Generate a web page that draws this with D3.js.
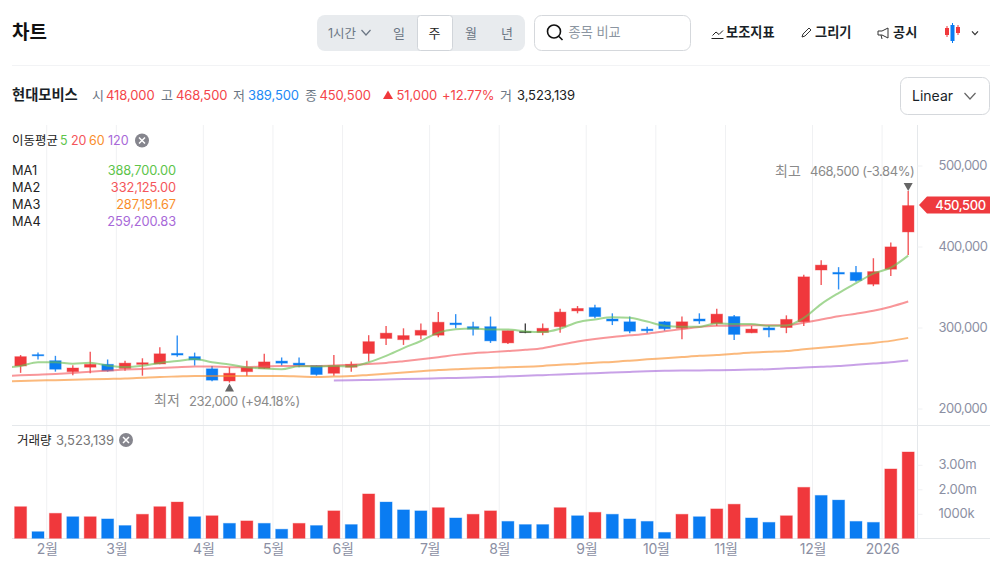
<!DOCTYPE html>
<html lang="ko">
<head>
<meta charset="utf-8">
<script src="https://cdn.jsdelivr.net/npm/d3@7"></script>
<style>
    html, body { margin: 0; background: #fff; overflow: hidden; }
    svg { display: block; }
    text { font-family: Inter, "Noto Sans CJK KR", sans-serif; }
    .axis .domain { display: none; }
    .axis text { fill: #8b8fa3; }
</style>
</head>
<body>
<div id="chart"></div>
<script>
// weekly candles, one entry per week
const open = [252500,266500,259000,245500,251000,254500,249500,254500,255000,268000,264000,249000,234000,245500,249500,258500,256000,253000,243500,251000,268000,286500,285000,290500,290500,305500,301000,301000,281000,295000,294000,301000,320500,324500,310500,307000,298000,307000,299000,310500,305000,313500,293500,299500,300000,307000,371000,368000,368000,353500,372000,418000];
const high = [266000,269000,265000,253500,270000,260500,259000,262000,275500,290000,269000,252500,251000,259000,267500,263000,263000,253500,266000,258000,290500,302000,299000,305000,319000,316500,307000,313500,296000,305000,305000,323000,326500,328000,317500,313500,301000,308000,313500,317500,323000,315500,302000,302000,315000,365000,383000,374500,376000,385500,405000,468500];
const low = [244000,260500,245500,241000,243500,245500,246500,240500,254500,264000,253000,233500,232000,240000,249000,253000,251000,240500,240500,245500,258000,278500,278500,285500,288000,299000,290000,281000,279500,293000,290500,293500,317500,311500,303000,293000,293000,296000,285500,304500,302000,284500,293000,288000,293000,302000,352500,347000,356500,351000,363500,389500];
const close = [264000,265000,248500,250000,254500,246500,256000,256500,267500,266000,260000,235000,243500,250500,257500,256000,253500,242000,253000,254500,282500,293000,290000,296500,306500,303500,298000,283500,296000,295000,299000,319000,323500,313500,308000,295500,296000,298500,307000,308000,316500,291500,298000,297000,310000,362500,377000,366000,358000,369000,399500,450500];

const volume = [1290000,270000,1020000,880000,880000,790000,520000,980000,1290000,1480000,880000,920000,610000,710000,610000,370000,610000,520000,1120000,560000,1810000,1480000,1160000,1120000,1250000,830000,980000,1120000,690000,560000,560000,1250000,920000,1060000,980000,790000,690000,240000,980000,880000,1200000,1390000,830000,650000,920000,2080000,1750000,1560000,690000,650000,2830000,3523139];
// 1 = red bar, 0 = blue bar
const volumeUp = [1,0,1,0,1,0,0,1,1,1,0,1,0,1,0,0,1,0,1,0,1,0,0,0,1,0,1,1,0,0,0,1,0,1,0,0,0,0,1,0,1,1,0,0,1,1,0,0,0,0,1,1];

// moving averages, first ma5/ma20/ma60 value is the week before the chart starts
const ma5 = [250000,252500,257000,257000,255300,256400,252900,251100,252700,256200,258500,261200,257000,254400,251000,249300,248500,252200,251900,252400,251800,257100,265000,274600,283300,293700,297900,298900,297600,297500,295200,294300,298500,306500,310000,312600,311900,307300,302300,301000,301000,305200,304300,304200,302200,302600,311800,328900,342500,354700,366500,373900,388700];
const ma20 = [240000,241000,241800,242600,243800,245400,246700,248000,248900,250000,250900,251700,252000,251000,251000,252000,252500,252500,252500,253000,254000,254900,256300,258400,260700,263300,266200,268300,269600,271000,272500,274500,278700,282700,285800,288300,290300,292400,295300,298000,300600,302300,302300,302700,302700,302900,305800,309800,313900,317000,320700,325700,332125];
const ma60 = [233500,234000,234500,235000,235500,236000,236500,237000,238000,239000,239500,240000,240000,240000,240000,240000,240000,239500,239000,239500,240000,241500,243000,244500,246000,247500,248500,249500,250000,251000,251500,252500,254000,255000,256500,257500,259000,260700,262000,263500,265000,266000,267500,269000,270000,271000,273000,275000,277000,279000,281000,283500,287192];
const ma120 = [234500,234800,235300,235800,236300,236800,237200,237800,238400,239000,239700,240300,241200,242000,242800,243600,244400,245200,246000,246500,246800,247000,247300,247600,248000,248500,249600,250500,251500,252500,254000,255500,257000,259201];
const ma120Start = 18;

const priceTicks = [200000,300000,400000,500000];
const volumeTicks = [1000000,2000000,3000000];
const volumeTickLabels = ["1000k","2.00m","3.00m"];
const monthTicks = [1.5,5.5,10.5,14.5,18.5,23.5,27.5,32.5,36.5,40.5,45.5,49.5];
const monthLabels = ["2월","3월","4월","5월","6월","7월","8월","9월","10월","11월","12월","2026"];

const maLegend = [
    {name: "MA1", value: "388,700.00", period: "5", color: "#5dc44a", x: 60},
    {name: "MA2", value: "332,125.00", period: "20", color: "#f4555a", x: 71},
    {name: "MA3", value: "287,191.67", period: "60", color: "#f98e2c", x: 89},
    {name: "MA4", value: "259,200.83", period: "120", color: "#a768d8", x: 108}
];

const RED = "#f0383c", BLUE = "#0a7cf2", GREY = "#6b7684";

const svg = d3.select("#chart").append("svg").attr("width", 1002).attr("height", 575);

const x = d3.scaleLinear().domain([0, 51]).range([20.6, 908.2]);
const y = d3.scaleLinear().domain([200000, 500000]).range([408.5, 165.5]);
const yVol = d3.scaleLinear().domain([0, 1000000]).range([538.3, 513.8]);

function label(parent, px, py, str, size, color, weight, anchor) {
    return parent.append("text")
        .attr("x", px).attr("y", py)
        .attr("font-size", size)
        .attr("fill", color)
        .attr("font-weight", weight || 400)
        .attr("text-anchor", anchor || "start")
        .text(str);
}

function chevron(parent, cx, cy, w, h, color) {
    parent.append("path")
        .attr("d", d3.line()([[cx - w, cy - h], [cx, cy + h], [cx + w, cy - h]]))
        .attr("fill", "none").attr("stroke", color).attr("stroke-width", 1.2);
}

function closeIcon(parent, cx, cy) {
    parent.append("circle").attr("cx", cx).attr("cy", cy).attr("r", 7).attr("fill", "#85858d");
    parent.append("path")
        .attr("d", `M${cx - 3},${cy - 3}L${cx + 3},${cy + 3}M${cx + 3},${cy - 3}L${cx - 3},${cy + 3}`)
        .attr("stroke", "#fff").attr("stroke-width", 1.5);
}

// ---- header
const head = svg.append("g");
label(head, 12, 39, "차트", 19, "#111", 700);

head.append("rect").attr("x", 317).attr("y", 15).attr("width", 208).attr("height", 36).attr("rx", 8).attr("fill", "#e8ebee");
head.append("rect").attr("x", 417.5).attr("y", 15.5).attr("width", 35).attr("height", 35).attr("rx", 3)
    .attr("fill", "#fff").attr("stroke", "#d1d5da");
label(head, 328, 38, "1시간", 12.5, GREY);
chevron(head, 366, 32.5, 4.5, 2.5, GREY);
label(head, 399, 38, "일", 13, GREY, 400, "middle");
label(head, 434.5, 38, "주", 13, "#222", 400, "middle");
label(head, 471, 38, "월", 13, GREY, 400, "middle");
label(head, 507, 38, "년", 13, GREY, 400, "middle");

head.append("rect").attr("x", 534.5).attr("y", 15.5).attr("width", 156).attr("height", 35).attr("rx", 7)
    .attr("fill", "#fff").attr("stroke", "#d5d8dc");
head.append("circle").attr("cx", 554).attr("cy", 31.5).attr("r", 6.5).attr("fill", "none").attr("stroke", "#111").attr("stroke-width", 1.6);
head.append("path").attr("d", "M559,36.5L562.5,40").attr("stroke", "#111").attr("stroke-width", 1.6);
label(head, 568.5, 37, "종목 비교", 13.2, "#8b95a1");

head.append("path").attr("d", "M712.5,35.5L716,32L719,34.5L723,30.5M711.5,38.5H723.5").attr("fill", "none").attr("stroke", "#222").attr("stroke-width", 1);
label(head, 726, 37, "보조지표", 13.2, "#191f28", 600);
head.append("path").attr("d", "M802,37L803,34L809,28L811,30L805,36Z").attr("fill", "none").attr("stroke", "#333").attr("stroke-width", 1);
label(head, 815, 37, "그리기", 13.2, "#191f28", 600);
head.append("path").attr("d", "M878,31H882L888,28V38L882,35H878ZM881,35L882,39").attr("fill", "none").attr("stroke", "#333").attr("stroke-width", 1);
label(head, 893, 37, "공시", 13.2, "#191f28", 600);

// little candle icon top right
[[947, 27, 36, RED], [952.5, 24, 42, BLUE], [958, 26, 34, RED]].forEach(c => {
    head.append("path").attr("d", `M${c[0]},${c[1] - 1}V${c[2] + 1}`).attr("stroke", c[3]);
    head.append("rect").attr("x", c[0] - 2).attr("y", c[1] + 1).attr("width", 4).attr("height", c[2] - c[1] - 2).attr("fill", c[3]);
});
chevron(head, 975, 33, 3, 1.7, "#333");

head.append("path").attr("d", "M12,65.5H990").attr("stroke", "#f2f3f5");

// ---- price summary row
const info = svg.append("g");
label(info, 12, 100, "현대모비스", 14.3, "#191f28", 600);
[
    [92, "시", GREY], [106, "418,000", "#f4454a"],
    [161, "고", GREY], [176, "468,500", "#f4454a"],
    [233, "저", GREY], [248, "389,500", "#2189f5"],
    [305, "종", GREY], [319.5, "450,500", "#f4454a"],
    [396.5, "51,000", "#f4454a"], [442, "+12.77%", "#f4454a"],
    [500, "거", GREY], [517, "3,523,139", "#222"]
].forEach(d => label(info, d[0], 100, d[1], 13, d[2]).attr("letter-spacing", -0.1));
info.append("path").attr("d", "M383,99L388,90.5L393,99Z").attr("fill", "#f0383c");

info.append("rect").attr("x", 900.5).attr("y", 77.5).attr("width", 89).attr("height", 37).attr("rx", 7)
    .attr("fill", "#fff").attr("stroke", "#d5d8dc");
label(info, 912, 101, "Linear", 14, "#191f28");
chevron(info, 970, 96, 5.5, 3, "#666");

// ---- gridlines
const grid = svg.append("g");
grid.selectAll("line").data(monthTicks).join("line")
    .attr("x1", d => x(d)).attr("x2", d => x(d))
    .attr("y1", 125).attr("y2", 538)
    .attr("stroke", "#f0f1f3");

svg.append("path").attr("d", "M917.5,125V538").attr("stroke", "#e5e8eb");
svg.append("path").attr("d", "M12,425.5H990").attr("stroke", "#e5e8eb");
svg.append("path").attr("d", "M12,538.5H990").attr("stroke", "#e5e8eb");

// ---- axes
const yAxis = d3.axisRight(y).tickValues(priceTicks).tickSize(5).tickPadding(16).tickFormat(d3.format(","));
const yAxisGroup = svg.append("g").attr("class", "axis").attr("transform", "translate(917.5,0)").call(yAxis);
yAxisGroup.selectAll("text").attr("font-size", 13).attr("letter-spacing", -0.5);
yAxisGroup.selectAll("line").attr("stroke", "#f0f1f3");

const yVolAxis = d3.axisRight(yVol).tickValues(volumeTicks).tickSize(5).tickPadding(16)
    .tickFormat((d, i) => volumeTickLabels[i]);
const yVolGroup = svg.append("g").attr("class", "axis").attr("transform", "translate(917.5,0)").call(yVolAxis);
yVolGroup.selectAll("text").attr("font-size", 13).attr("letter-spacing", -0.2);
yVolGroup.selectAll("line").attr("stroke", "#f0f1f3");

const xAxis = d3.axisBottom(x).tickValues(monthTicks).tickSize(0).tickPadding(6.5)
    .tickFormat((d, i) => monthLabels[i]);
const xAxisGroup = svg.append("g").attr("class", "axis").attr("transform", "translate(0,538)").call(xAxis);
xAxisGroup.selectAll("text").attr("font-size", 14).attr("letter-spacing", -0.2);

// ---- candles
const candleColor = i => close[i] > open[i] ? RED : close[i] < open[i] ? BLUE : "#222";
const weeks = d3.range(close.length);

svg.append("g").selectAll("line").data(weeks).join("line")
    .attr("x1", i => x(i)).attr("x2", i => x(i))
    .attr("y1", i => y(high[i])).attr("y2", i => y(low[i]))
    .attr("stroke", candleColor).attr("stroke-width", 1.4).attr("stroke-opacity", 0.85);

svg.append("g").selectAll("rect").data(weeks).join("rect")
    .attr("x", i => x(i) - 5.75)
    .attr("width", 11.5)
    .attr("y", i => y(Math.max(open[i], close[i])))
    .attr("height", i => Math.max(1, Math.abs(y(open[i]) - y(close[i]))))
    .attr("fill", candleColor)
    .attr("stroke", candleColor).attr("stroke-opacity", 0.4);

// ---- moving averages
svg.append("defs").append("clipPath").attr("id", "plot")
    .append("rect").attr("x", 12).attr("y", 125).attr("width", 905).attr("height", 300);

function drawMa(values, start, color) {
    const lineGenerator = d3.line()
        .x((d, i) => x(i + start))
        .y(d => y(d))
        .curve(d3.curveMonotoneX);
    svg.append("path")
        .attr("clip-path", "url(#plot)")
        .attr("d", lineGenerator(values))
        .attr("fill", "none")
        .attr("stroke", color).attr("stroke-width", 2).attr("stroke-opacity", 0.62);
}
drawMa(ma120, ma120Start, maLegend[3].color);
drawMa(ma60, -1, maLegend[2].color);
drawMa(ma20, -1, maLegend[1].color);
drawMa(ma5, -1, "#6abf52");

// ---- volume bars
svg.append("g").selectAll("rect").data(weeks).join("rect")
    .attr("x", i => x(i) - 6)
    .attr("width", 12)
    .attr("y", i => yVol(volume[i]))
    .attr("height", i => yVol(0) - yVol(volume[i]))
    .attr("fill", i => volumeUp[i] ? RED : BLUE)
    .attr("stroke", i => volumeUp[i] ? RED : BLUE).attr("stroke-opacity", 0.35);

// ---- high / low marks
const last = close.length - 1;
const highMark = y(d3.max(high)), lowMark = y(d3.min(low));
const marks = svg.append("g");
marks.append("path").attr("d", `M${x(last) - 4.5},${highMark - 8}H${x(last) + 4.5}L${x(last)},${highMark}Z`).attr("fill", "#666");
label(marks, 775, 176, "최고", 14, "#8a8a8a");
label(marks, 810, 176, "468,500 (-3.84%)", 13, "#8a8a8a").attr("letter-spacing", -0.45);
marks.append("path").attr("d", `M${x(12) - 4.5},${lowMark + 9}H${x(12) + 4.5}L${x(12)},${lowMark + 1}Z`).attr("fill", "#666");
label(marks, 154, 405, "최저", 14, "#8a8a8a");
label(marks, 189, 406, "232,000 (+94.18%)", 13, "#8a8a8a").attr("letter-spacing", -0.45);

// ---- last price tag
const tagY = y(close[last]);
svg.append("path")
    .attr("d", `M919,${tagY - 0.5}L927,${tagY - 9}H990V${tagY + 8}H927Z`)
    .attr("fill", "#ee3a3e");
label(svg, 960.5, tagY + 4.5, "450,500", 13, "#fff", 500, "middle").attr("letter-spacing", -0.4);

// ---- legends
const legend = svg.append("g");
label(legend, 12, 145, "이동평균", 12.5, "#222");
maLegend.forEach((d, i) => {
    label(legend, d.x, 145, d.period, 12.5, d.color);
    label(legend, 12, 175 + i * 17, d.name, 12.8, "#222");
    label(legend, 176, 175 + i * 17, d.value, 12.8, d.color, 400, "end").attr("letter-spacing", -0.1);
});
closeIcon(legend, 142, 140.5);

label(legend, 17, 445, "거래량", 12.5, "#222");
label(legend, 56, 445, "3,523,139", 13, "#777").attr("letter-spacing", -0.1);
closeIcon(legend, 126, 440);
</script>
</body>
</html>
